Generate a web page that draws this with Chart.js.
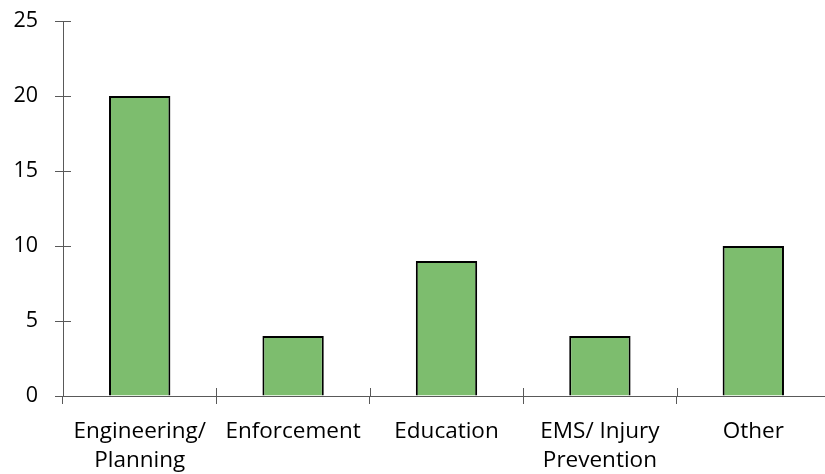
<!DOCTYPE html>
<html>
<head>
<meta charset="utf-8">
<script src="https://cdn.jsdelivr.net/npm/chart.js@4.4.1/dist/chart.umd.min.js"></script>
<style>
    html, body { margin: 0; padding: 0; background: #fff; overflow: hidden; }
    #wrap { position: relative; width: 832px; height: 474px; }
</style>
</head>
<body>
<div id="wrap"><canvas id="safetyChart"></canvas></div>
<script>
const categories = [["Engineering/", "Planning"], "Enforcement", "Education", ["EMS/ Injury", "Prevention"], "Other"];
const counts = [20, 4, 9, 4, 10];
const yTicks = [0, 5, 10, 15, 20, 25];

const axisColor = "#595959";

// tick marks that cross the axis lines (Chart.js only draws the outer half)
const crossTicks = {
    id: "crossTicks",
    afterDraw(chart) {
        const { ctx, scales: { x, y } } = chart;
        ctx.save();
        ctx.strokeStyle = axisColor;
        ctx.lineWidth = 1;
        ctx.beginPath();
        y.ticks.forEach((t, i) => {
            const py = Math.round(y.getPixelForTick(i)) + 0.5;
            ctx.moveTo(x.left - 8, py);
            ctx.lineTo(x.left + 8, py);
        });
        for (let i = 0; i <= x.ticks.length; i++) {
            const px = Math.round(x.left + (x.right - x.left) * i / x.ticks.length) + 0.5;
            ctx.moveTo(px, y.bottom);
            ctx.lineTo(px, y.bottom - 8);
        }
        ctx.stroke();
        ctx.restore();
    }
};

document.addEventListener("DOMContentLoaded", () => {
    const ctx = document.getElementById("safetyChart").getContext("2d");

    new Chart(ctx, {
        type: "bar",
        data: {
            labels: categories,
            datasets: [
                {
                    label: "Count",
                    data: counts,
                    backgroundColor: "#7dbd6e",
                    borderColor: "#000000",
                    borderWidth: 2,
                    barPercentage: 0.4,
                    categoryPercentage: 1.0,
                },
            ],
        },
        options: {
            responsive: true,
            maintainAspectRatio: false,
            animation: false,
            layout: { padding: { top: 21, right: 2, left: 0, bottom: 0 } },
            plugins: { legend: { display: false }, tooltip: { enabled: false } },
            scales: {
                x: {
                    offset: true,
                    grid: {
                        offset: true,
                        drawOnChartArea: false,
                        drawTicks: true,
                        tickLength: 8,
                        color: axisColor,
                    },
                    border: { color: axisColor, width: 1 },
                    ticks: {
                        color: "#000",
                        font: { family: "Open Sans", size: 22.5, lineHeight: 1.3 },
                        padding: 13,
                        maxRotation: 0,
                        autoSkip: false,
                    },
                    afterFit: (scale) => { scale.height = 78; },
                },
                y: {
                    min: 0,
                    max: 25,
                    afterBuildTicks: (scale) => {
                        scale.ticks = yTicks.map((v) => ({ value: v }));
                    },
                    grid: {
                        drawOnChartArea: false,
                        drawTicks: true,
                        tickLength: 25,
                        tickColor: "rgba(0,0,0,0)",
                    },
                    border: { color: axisColor, width: 1 },
                    ticks: {
                        color: "#000",
                        font: { family: "Open Sans", size: 21.5 },
                        padding: 0,
                    },
                    afterFit: (scale) => { scale.width = 63; },
                },
            },
        },
        plugins: [crossTicks],
    });
});
</script>
</body>
</html>
